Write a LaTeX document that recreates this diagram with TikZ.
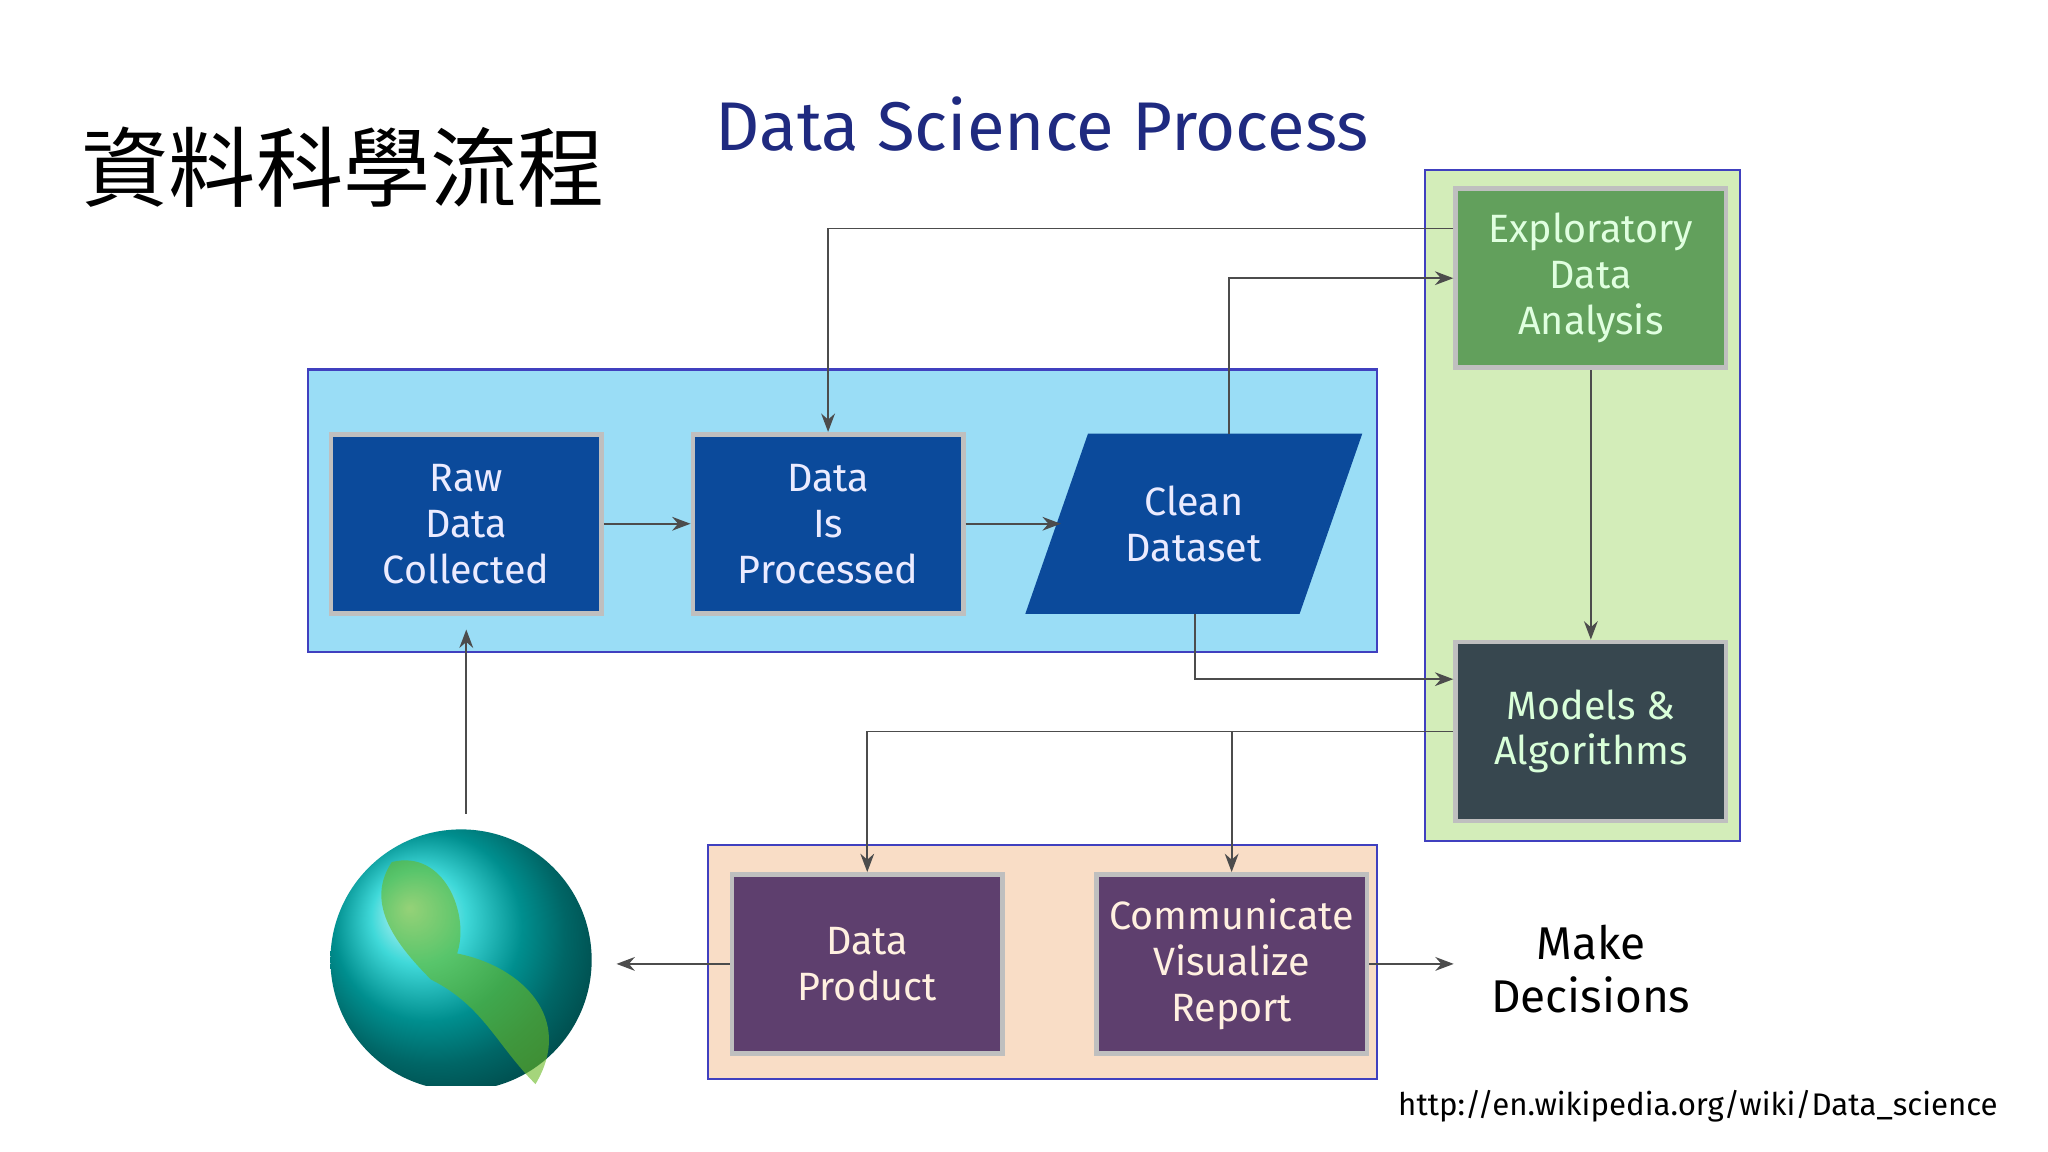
\documentclass[tikz,border=0pt]{standalone}
\usepackage{fontspec}
\setmainfont{Fira Sans}
\newfontfamily\cjk{Noto Sans CJK TC}
\usetikzlibrary{arrows.meta}
\definecolor{panelblue}{HTML}{9ADDF6}
\definecolor{panelgreen}{HTML}{D3EDB9}
\definecolor{panelpeach}{HTML}{F9DDC6}
\definecolor{boxnavy}{HTML}{0B4A9B}
\definecolor{boxgreen}{HTML}{62A05C}
\definecolor{boxslate}{HTML}{37474F}
\definecolor{boxpurple}{HTML}{5E3F6E}
\definecolor{titlenavy}{HTML}{1F2A80}
\begin{document}
\begin{tikzpicture}[x=0.01cm,y=-0.01cm,
    panel/.style={draw=blue!50!gray,line width=0.5pt},
    stage/.style={draw=black!25,line width=1pt,minimum width=2.07cm,minimum height=1.37cm,
        align=center,font=\fontsize{8.6}{10}\selectfont,text=blue!8},
    flow/.style={draw=black!70,line width=0.4pt,-{Stealth[length=4pt,width=3pt]}}]
    \useasboundingbox (0,0) rectangle (1568,882);
    % titles
    \node[font=\cjk\fontsize{19}{19}\selectfont,anchor=west] (cjktitle) at (50,128) {資料科學流程};
    \node[font=\fontsize{15}{15}\selectfont,text=titlenavy] (title) at (798,95) {Data Science Process};
    % panels
    \fill[panelblue,panel] (236,283) rectangle (1054,499);
    \fill[panelgreen,panel] (1091,130) rectangle (1332,644);
    \fill[panelpeach,panel] (542,647) rectangle (1054,826);
    % stages
    \node[stage,fill=boxnavy] (raw) at (357,401) {Raw\\Data\\Collected};
    \node[stage,fill=boxnavy] (proc) at (634,401) {Data\\Is\\Processed};
    \fill[boxnavy] (833,332) -- (1043,332) -- (995,470) -- (785,470) -- cycle;
    \node[stage,draw=none,minimum width=2.0cm] (clean) at (914,401) {Clean\\Dataset};
    \node[stage,fill=boxgreen,text=green!12] (eda) at (1218,213) {Exploratory\\Data\\Analysis};
    \node[stage,fill=boxslate,text=green!15] (models) at (1218,560) {Models \&\\Algorithms};
    \node[stage,fill=boxpurple,text=orange!12] (product) at (664,738) {Data\\Product};
    \node[stage,fill=boxpurple,text=orange!12,inner xsep=1pt] (report) at (943,738) {Communicate\\Visualize\\Report};
    \node[font=\fontsize{10}{11.5}\selectfont,align=center] (decide) at (1218,742) {Make\\Decisions};
    \node[font=\fontsize{6.8}{7}\selectfont] (url) at (1300,847) {http://en.wikipedia.org/wiki/Data\_science};
    % globe
    \begin{scope}
        \clip (200,600) rectangle (500,831);
        \shade[ball color=cyan!60!teal] (353,735) circle (100);
        \fill[green!45!brown,opacity=0.6] (300,660) .. controls (340,650) and (360,700) .. (350,730)
            .. controls (400,740) and (440,780) .. (410,830) .. controls (380,800) and (370,770) .. (330,750)
            .. controls (300,720) and (280,690) .. (300,660);
    \end{scope}
    \coordinate (globetop) at (357,623);
    \coordinate (globeright) at (472,738);
    \coordinate (decidein) at (1113,738);
    % connectors
    \draw[flow] (raw) -- (proc);
    \draw[flow] (proc.east) -- (clean.west);
    \draw[flow] (eda.west |- 0,175) -| (proc.north);
    \draw[flow] (941,332) |- (eda.west);
    \draw[flow] (eda) -- (models);
    \draw[flow] (915,470) |- (models.west |- 0,520);
    \draw[flow] (models.west) -| (product.north);
    \draw[flow] (943,560) -- (report.north);
    \draw[flow] (product) -- (globeright);
    \draw[flow] (report) -- (decidein);
    \draw[flow] (globetop) -- (357,482);
\end{tikzpicture}
\end{document}
